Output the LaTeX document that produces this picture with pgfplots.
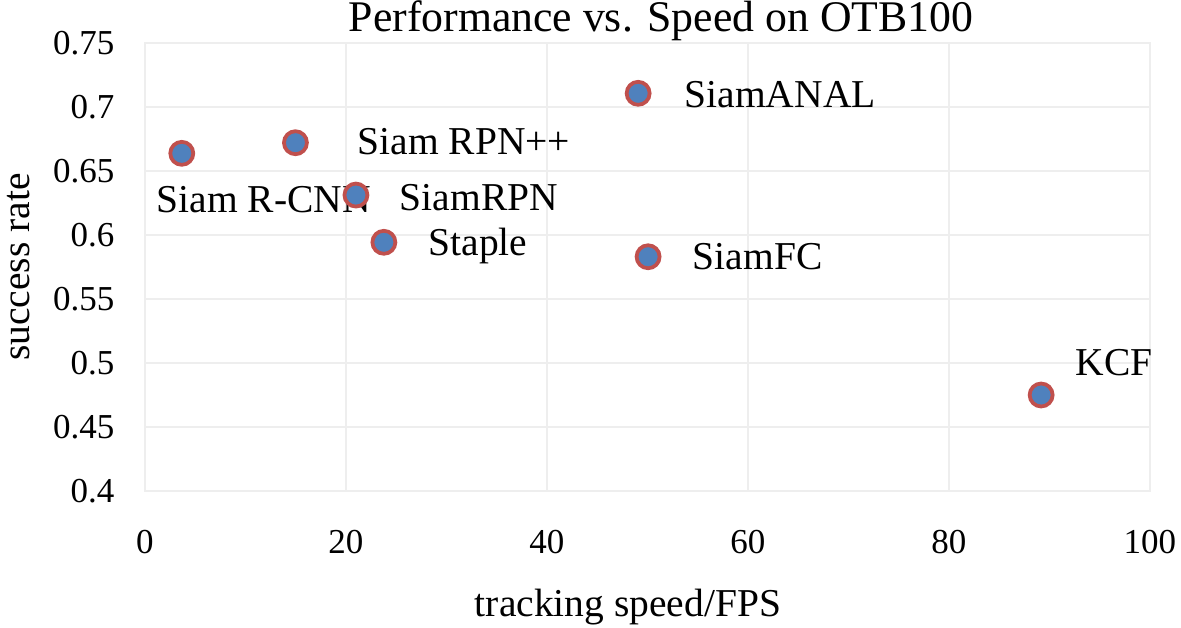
\documentclass[border=0pt]{standalone}
\usepackage{pgfplots}
\pgfplotsset{compat=1.18}
\usepackage{pgfplotstable}
\usepackage{fontspec}
\setmainfont{Liberation Serif}
\definecolor{mblue}{HTML}{4F81BD}
\definecolor{mred}{HTML}{C0504D}
\definecolor{gridc}{HTML}{EEEEEE}

\pgfplotstableread{
x y dx dy label
3.66 0.6638 -10.7 -23.5 {Siam R-CNN}
14.97 0.6721 24.2 -4.9 {Siam RPN++}
20.99 0.6312 16.8 -6.0 {SiamRPN}
23.77 0.5943 17.2 -5.1 {Staple}
49.07 0.7107 17.9 -5.5 {SiamANAL}
50.06 0.5830 17.2 -4.9 {SiamFC}
89.17 0.4750 13.0 7.6 {KCF}
}\datatable

\begin{document}
\begin{tikzpicture}
\begin{axis}[
  scale only axis, width=402pt, height=179.2pt,
  xmin=0, xmax=100, ymin=0.4, ymax=0.75,
  xtick={0,20,40,60,80,100}, xticklabels={0,20,40,60,80,100},
  ytick={0.4,0.45,0.5,0.55,0.6,0.65,0.7,0.75},
  yticklabels={0.4,0.45,0.5,0.55,0.6,0.65,0.7,0.75},
  grid=major, major grid style={gridc, line width=0.8pt},
  axis line style={gridc, line width=0.8pt},
  major tick length=0pt,
  tick label style={font=\fontsize{14}{16}\selectfont, text=black, inner sep=0pt},
  yticklabel style={anchor=east, xshift=-12pt},
  xticklabel style={anchor=north, yshift=-15.6pt},
  title={Performance vs. Speed on OTB100},
  every axis title/.style={at={(axis description cs:0.5134,1.0265)}, anchor=base, inner sep=0pt, font=\fontsize{17.5}{20}\selectfont},
  xlabel={tracking speed/FPS},
  xlabel style={at={(axis description cs:0.4806,-0.28125)}, anchor=base, inner sep=0pt, font=\fontsize{15.8}{18}\selectfont},
  ylabel={success rate},
  ylabel style={at={(axis description cs:-0.1150,0.5)}, anchor=base, inner sep=0pt, font=\fontsize{15.8}{18}\selectfont},
  clip=false,
]
\addplot[only marks, mark=*, mark size=4.6pt,
  mark options={fill=mblue, draw=mred, line width=1.5pt},
  visualization depends on={\thisrow{dx} \as \dx},
  visualization depends on={\thisrow{dy} \as \dy},
  point meta=explicit symbolic,
  nodes near coords,
  nodes near coords style={anchor=base west, inner sep=0pt, xshift=\dx pt, yshift=\dy pt, font=\fontsize{15.8}{18}\selectfont, text=black},
] table[x=x, y=y, meta=label] {\datatable};
\end{axis}
\pgfresetboundingbox
\path[use as bounding box] (-58pt,-54.8pt) rectangle (414.4pt,196.4pt);
\end{tikzpicture}
\end{document}
